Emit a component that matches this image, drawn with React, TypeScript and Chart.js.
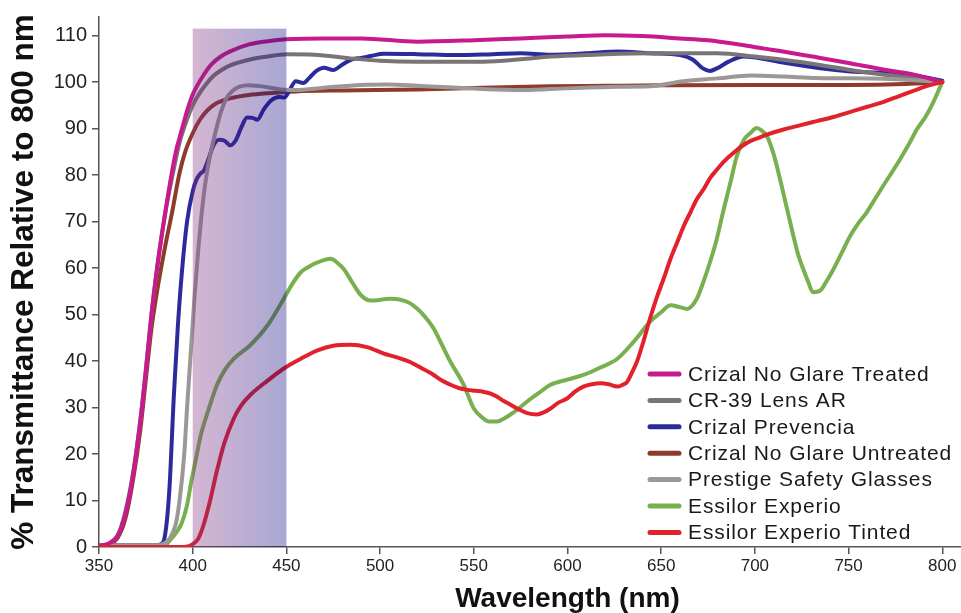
import React, { useEffect, useRef } from 'react';
import { Chart, registerables } from 'chart.js';

Chart.register(...registerables);

// ---------- data ----------
const xTickValues = [350, 400, 450, 500, 550, 600, 650, 700, 750, 800];
const yTickValues = [0, 10, 20, 30, 40, 50, 60, 70, 80, 90, 100, 110];
const bandRange = [400, 450];
const bandTop = 111.5;

const treatedNm = [350,355,360,364,368,372,375,378,381,385,388,391,394,397,400,405,410,415,420,430,440,450,470,490,520,550,575,600,620,640,660,675,690,705,715,735,750,770,785,800];
const treatedT = [0.3,0.7,2.5,7,15,27,38,50,60,71,78.5,85,89.5,93.8,97.3,101,103.8,105.5,106.6,108.1,108.8,109.2,109.4,109.4,108.7,109,109.4,109.8,110.1,109.9,109.4,109,108.2,107.2,106.6,105.2,104.1,102.6,101.6,100];

const cr39Nm = [350,355,360,364,368,372,375,378,381,385,389,393,397,400,403,407,411,415,420,430,440,450,465,484,500,520,555,575,591,615,644,680,700,715,733,751,765,778,790,800];
const cr39T = [0.3,0.7,2.5,7.5,15.5,27,38,50,60,71,79.5,87,92,95,97.2,99.5,101.3,102.5,103.6,104.8,105.5,106,105.9,105.1,104.6,104.4,104.4,104.9,105.5,105.9,106.2,106.2,105.5,104.8,103.8,102.6,101.8,101.2,100.6,100];

const prevenciaNm = [350,380,383,385,387.5,390,392,394,397,400,402,404,406,408,411,414,417,420,423,426,429,432,434.5,438,442,446,449,452,455,459,462,466,470,475,480,485,490,495,502,520,540,560,575,591,610,627,644,660,667,672,676,680,686,694,706,715,733,751,778,790,800];
const prevenciaT = [0.3,0.3,0.6,2,12,33,47,58,70,76.5,79,80.3,81,83,86.3,87.6,87.4,86.4,87.5,90.3,92.4,92.3,91.9,94.2,96.1,96.8,96.7,98.5,100.2,99.8,100.8,102.4,103.1,102.6,103.8,104.9,105.2,105.6,106.1,106,105.8,106,106.2,105.9,106.2,106.6,106.2,105.8,104.8,103,102.4,103,104.4,105.5,104.9,104.2,103.1,102.3,101.8,101.1,100.3];

const untreatedNm = [350,355,360,364,368,372,375,378,381,385,389,393,396,400,404,408,412,416,420,430,440,455,480,520,555,590,620,650,700,750,780,800];
const untreatedT = [0.2,0.5,2,6,14,25,36,47,55,64,72,80.5,85,89,92,94,95.3,96,96.5,97.2,97.6,98,98.2,98.4,98.8,99.1,99.2,99.3,99.4,99.4,99.6,100];

const prestigeNm = [350,380,385,388,391,393,395.5,397,399,401,403,405,407,409.7,412,415,418,421,425,430,440,447,455,470,490,505,520,550,575,591,627,644,662,680,698,715,733,768,785,800];
const prestigeT = [0.3,0.3,0.8,2,5,10,20,30,42,54,64,72.5,79,85,89,93.5,96.5,98,99,99.3,98.9,98.4,98.3,98.8,99.4,99.5,99.2,98.6,98.3,98.5,99,99.1,100.2,100.8,101.4,101.2,100.9,100.7,100.4,100];

const experioNm = [350,385,388,391,394,397,399,402,404.4,408,413,417,422,431,440,448.6,453,457.7,462,466.6,473.7,477,480.6,485,489.7,495,505.6,514.6,520,524,528.6,533,537.6,544.6,550,555,558,562.5,566,569.6,574,578.5,585,591,600,608.5,617,626.6,635,644,650,655,660,663.8,669,672.5,676,679.5,683,687,690.4,694,697.5,701,703.5,706.4,710,713.5,717,720.5,723,725.8,728.5,731,735,738,742,746,751,755,759.7,764,768.5,773,777.5,782,786.4,791,795,800];
const experioT = [0.3,0.3,1.5,3,5,9,13.5,19.5,24.2,29,34.9,38,40.5,43.5,47.7,53.4,56.5,59.1,60.3,61.2,62,61.2,59.8,57,54.2,53,53.4,52.7,51.2,49.5,47,43.5,39.8,34.9,29.8,27.7,27,27,27.6,28.5,29.8,31.3,33.2,34.9,36,37,38.5,40.5,44,48.4,50.5,52,51.6,51.2,53.4,57,61.2,66,72,78.5,84.1,87.5,89,90.1,89.6,88.4,84.5,79,73,67,63,59.8,57,54.8,55.2,57,59.8,63,67,69.5,72,74.8,77.7,80.5,83.4,86.5,89.8,92.5,95.5,100];

const tintedNm = [350,395,398,400.6,403,406,409,413,417,422,426,431,440,448.6,457.7,466.6,475,484,493,502,509,516,522,528.6,533,537.6,542,546.6,551,555,559,562.5,566,569.6,574,578.5,583.8,587,591,595,600,604,608.5,613,617.6,622,626.5,629,631.8,634,637,640,644,647.5,651.3,655,658.5,662,665.6,669,672.7,676,679.8,684,688.7,693,697.5,702,706.4,715.3,724,733,742,751,760,768.4,777,786.4,793,800];
const tintedT = [0,0,0.2,0.8,1.8,5,9.5,16.5,22.5,27.7,30.5,32.8,35.8,38.4,40.5,42.3,43.3,43.5,43,41.6,40.8,39.8,38.5,37,35.8,34.9,34.2,33.8,33.6,33.4,33,32.3,31.4,30.6,29.6,28.8,28.5,28.9,29.8,31,32,33.4,34.5,35,35.2,35,34.5,34.8,35.5,37.2,39.8,43.5,49.1,53.5,57.7,62,65.5,69,72,74.8,77,79.3,81.2,83.1,84.8,86.2,87.3,88,88.7,89.8,90.7,91.6,92.5,93.6,94.7,95.7,97,98.4,99.3,100];

const seriesLabels = ['Crizal No Glare Treated','CR-39 Lens AR','Crizal Prevencia','Crizal No Glare Untreated','Prestige Safety Glasses','Essilor Experio','Essilor Experio Tinted'];
const seriesColors = ['#c8198e','#797476','#2b2b9c','#8e3b2c','#9c9898','#79b04f','#e1222c'];
const seriesNm = [treatedNm, cr39Nm, prevenciaNm, untreatedNm, prestigeNm, experioNm, tintedNm];
const seriesT = [treatedT, cr39T, prevenciaT, untreatedT, prestigeT, experioT, tintedT];
const seriesOrder = [1, 3, 4, 5, 2, 6, 0];

const SANS = '"Liberation Sans", Arial, sans-serif';

function fontAvailable(name: string): boolean {
  const c = document.createElement('canvas').getContext('2d');
  if (!c) return false;
  const s = 'Wavelength 0123456789 mmmwwwiii';
  c.font = '40px monospace';
  const a = c.measureText(s).width;
  c.font = `40px "${name}", monospace`;
  const b = c.measureText(s).width;
  return Math.abs(a - b) > 0.5;
}

export default function App() {
  const ref = useRef<HTMLCanvasElement | null>(null);

  useEffect(() => {
    const canvas = ref.current;
    if (!canvas) return;
    const narrow = fontAvailable('Liberation Sans Narrow');
    const xTickFont = narrow
      ? { family: '"Liberation Sans Narrow", "Liberation Sans", sans-serif', size: 20 }
      : { family: SANS, size: 17 };
    const xTitleFont = narrow
      ? 'bold 33px "Liberation Sans Narrow", "Liberation Sans", sans-serif'
      : `bold 28px ${SANS}`;

    const bandPlugin = {
      id: 'uvBand',
      afterDatasetsDraw(chart: any) {
        const { ctx, scales } = chart;
        const xs = scales.x, ys = scales.y;
        const x0 = xs.getPixelForValue(bandRange[0]);
        const x1 = xs.getPixelForValue(bandRange[1]);
        const y0 = ys.getPixelForValue(bandTop);
        const y1 = ys.getPixelForValue(0);
        ctx.save();
        const g = ctx.createLinearGradient(x0, 0, x1, 0);
        g.addColorStop(0, 'rgba(132,46,126,0.35)');
        g.addColorStop(1, 'rgba(8,4,128,0.35)');
        ctx.fillStyle = g;
        ctx.fillRect(x0, y0, x1 - x0, y1 - y0);
        ctx.restore();
      },
    };

    const textPlugin = {
      id: 'textParts',
      afterDraw(chart: any) {
        const { ctx, chartArea, scales } = chart;
        ctx.save();
        // x-axis title
        ctx.fillStyle = '#111';
        ctx.font = xTitleFont;
        ctx.textAlign = 'center';
        ctx.textBaseline = 'middle';
        ctx.fillText('Wavelength (nm)', scales.x.getPixelForValue(600), 599);
        // legend
        const lx = chartArea.right - 311;
        const ly = chartArea.top + 357;
        const rowH = 26.4;
        ctx.font = `21px ${SANS}`;
        try { (ctx as any).letterSpacing = '0.9px'; } catch (e) {}
        ctx.textAlign = 'left';
        for (let i = 0; i < seriesLabels.length; i++) {
          const y = ly + i * rowH;
          ctx.strokeStyle = seriesColors[i];
          ctx.lineWidth = 5;
          ctx.lineCap = 'round';
          ctx.beginPath();
          ctx.moveTo(lx, y);
          ctx.lineTo(lx + 29, y);
          ctx.stroke();
          ctx.fillStyle = '#1a1a1a';
          ctx.fillText(seriesLabels[i], lx + 38, y + 1);
        }
        try { (ctx as any).letterSpacing = '0px'; } catch (e) {}
        ctx.restore();
      },
    };

    const datasets = seriesLabels.map((label, i) => ({
      label,
      data: seriesNm[i].map((x, j) => ({ x, y: seriesT[i][j] })),
      borderColor: seriesColors[i],
      backgroundColor: seriesColors[i],
      borderWidth: 4,
      pointRadius: 0,
      fill: false,
      cubicInterpolationMode: 'monotone' as const,
      order: seriesOrder[i],
    }));

    const chart = new Chart(canvas, {
      type: 'line',
      data: { datasets },
      plugins: [bandPlugin, textPlugin],
      options: {
        animation: false,
        responsive: false,
        maintainAspectRatio: false,
        layout: { padding: { top: 13, left: 0, right: 0, bottom: 0 } },
        plugins: { legend: { display: false }, tooltip: { enabled: false } },
        elements: { line: { borderCapStyle: 'round', borderJoinStyle: 'round' } },
        scales: {
          x: {
            type: 'linear',
            min: 350,
            max: 810,
            afterBuildTicks: (s: any) => { s.ticks = xTickValues.map((v) => ({ value: v })); },
            afterFit: (s: any) => { s.height = 66; },
            grid: { drawOnChartArea: false, drawTicks: true, tickLength: 7, color: '#555', lineWidth: 1.5 },
            border: { color: '#555', width: 1.5 },
            ticks: { font: xTickFont, color: '#222', padding: 2, maxRotation: 0, autoSkip: false },
          },
          y: {
            type: 'linear',
            min: 0,
            max: 114,
            afterBuildTicks: (s: any) => { s.ticks = yTickValues.map((v) => ({ value: v })); },
            afterFit: (s: any) => { s.width = 99; },
            grid: { drawOnChartArea: false, drawTicks: true, tickLength: 7, color: '#555', lineWidth: 1.5 },
            border: { color: '#555', width: 1.5 },
            ticks: { font: { family: SANS, size: 20 }, color: '#222', padding: 5 },
            title: {
              display: true,
              text: '% Transmittance Relative to 800 nm',
              font: { family: SANS, size: 31.5, weight: 'bold' },
              color: '#111',
              padding: { top: 5, bottom: 0 },
            },
          },
        },
      } as any,
    });
    return () => chart.destroy();
  }, []);

  return (
    <div style={{ position: 'fixed', left: 0, top: 0, width: 961, height: 613, background: '#fff' }}>
      <canvas ref={ref} width={961} height={613} style={{ display: 'block', width: 961, height: 613 }} />
    </div>
  );
}
